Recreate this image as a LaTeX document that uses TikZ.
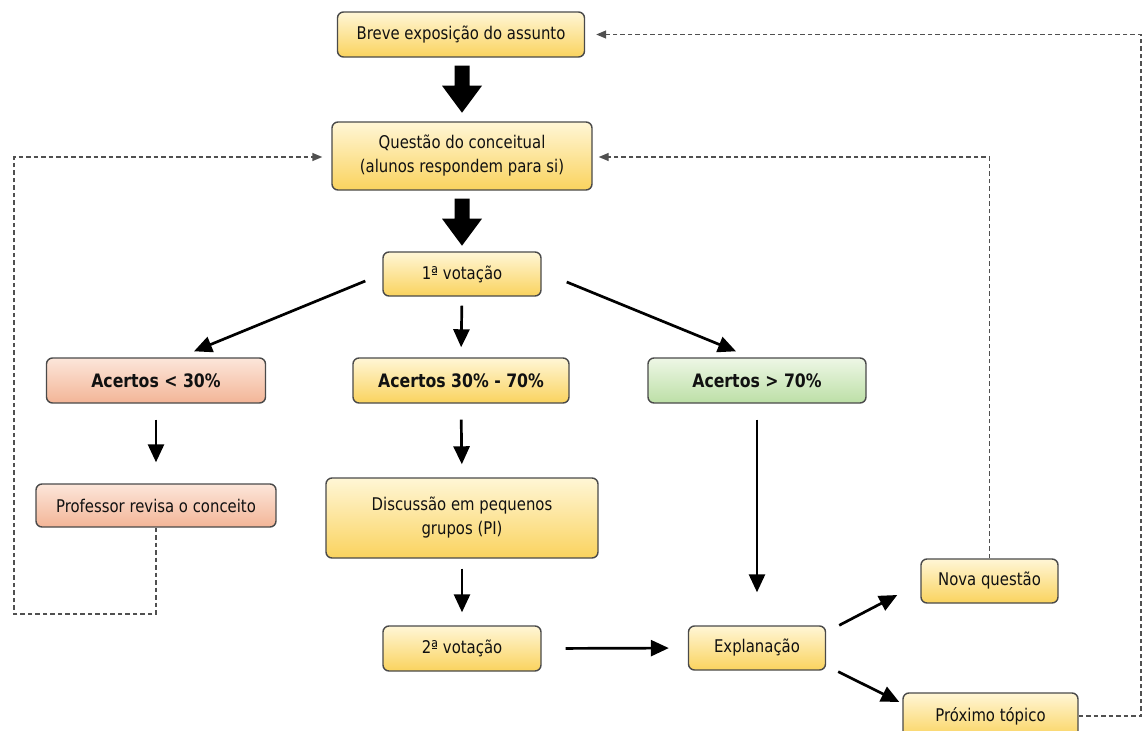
\documentclass[tikz,border=0pt]{standalone}
\usepackage{fontspec}
\setmainfont{DejaVu Sans}[FakeStretch=0.85]
\usetikzlibrary{arrows.meta,calc}
\definecolor{ytop}{HTML}{FFF6D6}
\definecolor{ybot}{HTML}{FAD35E}
\definecolor{rtop}{HTML}{FCE6DA}
\definecolor{rbot}{HTML}{F3B597}
\definecolor{gtop}{HTML}{EEF7E6}
\definecolor{gbot}{HTML}{BCDFA6}
\definecolor{edge}{HTML}{4A4A4A}
\definecolor{ink}{HTML}{111111}
\definecolor{dash}{HTML}{505050}
\tikzset{
  box/.style={draw=edge, line width=1.4pt, rounded corners=6pt, inner sep=0pt,
    text=ink, align=center, font=\fontsize{17.5}{24}\selectfont},
  ybox/.style={box, top color=ytop, bottom color=ybot},
  rbox/.style={box, top color=rtop, bottom color=rbot},
  gbox/.style={box, top color=gtop, bottom color=gbot},
  bold/.style={font=\fontsize{18.5}{24}\selectfont\bfseries},
  arr/.style={draw=black, line width=2.7pt, -{Triangle[length=18pt,width=16pt]}},
  darr/.style={draw=dash, line width=1.4pt, dash pattern=on 4.5pt off 3pt,
    -{Triangle[length=10pt,width=8pt]}},
  fat/.style={fill=black, draw=none}
}
\begin{document}
\begin{tikzpicture}[x=1pt,y=-1pt]
\useasboundingbox (0,0) rectangle (1144,731);
\clip (0,0) rectangle (1144,731);

\node[ybox, minimum width=247pt, minimum height=45pt] (breve) at (461,34.5) {Breve exposição do assunto};
\node[ybox, minimum width=260pt, minimum height=68pt] (questao) at (462,156) {Questão do conceitual\\(alunos respondem para si)};
\node[ybox, minimum width=158pt, minimum height=44pt] (v1) at (462,274) {1ª votação};
\node[rbox, bold, minimum width=219pt, minimum height=45pt] (a30) at (156,380.5) {Acertos < 30\%};
\node[ybox, bold, minimum width=216pt, minimum height=45pt] (a3070) at (461,380.5) {Acertos 30\% - 70\%};
\node[gbox, bold, minimum width=218pt, minimum height=45pt] (a70) at (757,380.5) {Acertos > 70\%};
\node[rbox, minimum width=240pt, minimum height=43pt] (prof) at (156,505.5) {Professor revisa o conceito};
\node[ybox, minimum width=272pt, minimum height=80pt] (disc) at (462,518) {Discussão em pequenos\\grupos (PI)};
\node[ybox, minimum width=158pt, minimum height=45pt] (v2) at (462,648.5) {2ª votação};
\node[ybox, minimum width=137pt, minimum height=44pt] (expl) at (757,648) {Explanação};
\node[ybox, minimum width=137pt, minimum height=44pt] (nova) at (989.5,581) {Nova questão};
\node[ybox, minimum width=175pt, minimum height=46pt] (prox) at (990.5,716) {Próximo tópico};

% fat arrows
\coordinate (f1) at ($(breve.south)+(1,8)$);
\coordinate (f2) at ($(questao.south)+(0,8)$);
\foreach \c in {f1,f2}{
  \fill[fat] ($(\c)+(-7.5,0)$) -- ($(\c)+(7.5,0)$) -- ($(\c)+(7.5,20)$) -- ($(\c)+(20,20)$)
    -- ($(\c)+(0,47)$) -- ($(\c)+(-20,20)$) -- ($(\c)+(-7.5,20)$) -- cycle;
}

% solid arrows
\draw[arr] ($(v1.west)+(-17,7)$) -- ($(a30.north)+(38,-6)$);
\draw[arr, shorten <=9pt, shorten >=10pt] (v1.south) -- (a3070.north);
\draw[arr] ($(v1.east)+(25,8)$) -- ($(a70.north)+(-21,-6)$);
\draw[arr, shorten <=16pt, shorten >=21pt] (a30.south) -- (prof.north);
\draw[arr, shorten <=16pt, shorten >=13pt] (a3070.south) -- (disc.north);
\draw[arr, shorten <=10pt, shorten >=13pt] (disc.south) -- (v2.north);
\draw[arr, shorten <=16pt, shorten >=33pt] (a70.south) -- (expl.north);
\draw[arr, shorten <=24pt, shorten >=19pt] (v2.east) -- (expl.west);
\draw[arr] ($(expl.north east)+(13,0)$) -- ($(nova.west)+(-23,14)$);
\draw[arr] ($(expl.south east)+(12,1)$) -- ($(prox.west)+(-3,-14)$);

% dashed feedback
\coordinate (d1) at (156,614);
\coordinate (d2) at (14,614);
\coordinate (d3) at (14,157);
\draw[darr, shorten >=9pt] (prof.south) -- (d1) -- (d2) -- (d3) -- (d3 -| questao.west);
\coordinate (n1) at (989.5,157);
\draw[darr, shorten >=6pt] (nova.north) -- (n1) -- (n1 -| questao.east);
\coordinate (p1) at (1141,716);
\coordinate (p2) at (1141,34.5);
\draw[darr, shorten >=11pt] (prox.east) -- (p1) -- (p2) -- (breve.east);
\end{tikzpicture}
\end{document}
